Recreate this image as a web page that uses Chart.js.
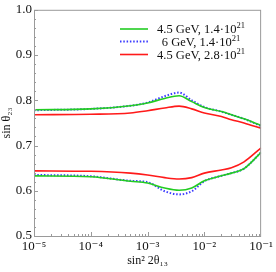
<!DOCTYPE html>
<html>
<head>
<meta charset="utf-8">
<script src="https://cdn.jsdelivr.net/npm/chart.js@4/dist/chart.umd.min.js"></script>
<style>
  html, body { margin: 0; padding: 0; background: #fff; }
  #wrap { width: 276px; height: 272px; }
</style>
</head>
<body>
<div id="wrap"><canvas id="chart" width="276" height="272"></canvas></div>
<script>
const xValues = [1e-5, 1e-4, 5e-4, 1e-3, 2e-3, 3.6e-3, 6e-3, 1e-2, 2e-2, 3e-2, 5e-2, 1e-1];

// upper branch
const greenUpper = [0.779, 0.781, 0.788, 0.794, 0.804, 0.810, 0.797, 0.784, 0.775, 0.768, 0.759, 0.744];
const blueUpper = [0.778, 0.781, 0.788, 0.795, 0.809, 0.817, 0.800, 0.785, 0.775, 0.768, 0.759, 0.743];
const redUpper = [0.768, 0.769, 0.772, 0.777, 0.783, 0.787, 0.781, 0.772, 0.764, 0.757, 0.750, 0.738];

// lower branch
const greenLower = [0.633, 0.631, 0.621, 0.617, 0.606, 0.601, 0.606, 0.622, 0.633, 0.639, 0.649, 0.685];
const blueLower = [0.635, 0.632, 0.622, 0.619, 0.599, 0.592, 0.599, 0.621, 0.633, 0.639, 0.649, 0.685];
const redLower = [0.644, 0.643, 0.639, 0.635, 0.629, 0.626, 0.629, 0.639, 0.646, 0.651, 0.664, 0.695];

const seriesNames = ["4.5 GeV, 1.4·10^21", "6 GeV, 1.4·10^21", "4.5 GeV, 2.8·10^21"];
const seriesColors = ["#22cc22", "#3b3bff", "#ff1a1a"];
const xTickValues = [1e-5, 1e-4, 1e-3, 1e-2, 1e-1];
const xTickLabels = ["10⁻⁵", "10⁻⁴", "10⁻³", "10⁻²", "10⁻¹"];

const FONT = "'Liberation Serif', 'DejaVu Serif', serif";
const AXIS_GRAY = "#9a9a9a";

function toPoints(ys) {
  return xValues.map((x, i) => ({ x, y: ys[i] }));
}

function makeDataset(ys, idx, hideLegend) {
  const dotted = idx === 1;
  return {
    label: seriesNames[idx],
    data: toPoints(ys),
    borderColor: seriesColors[idx],
    borderWidth: dotted ? 2 : 1.6,
    borderDash: dotted ? [1.5, 1.8] : [],
    showLine: true,
    pointRadius: 0,
    tension: 0.4,
    cubicInterpolationMode: "monotone",
    fill: false,
    hideLegend
  };
}

// inward ticks + frame, like the original plot
const frameTicksPlugin = {
  id: "frameTicks",
  afterDraw(chart) {
    const { ctx, chartArea, scales } = chart;
    const xs = scales.x;
    const ys = scales.y;
    ctx.save();
    ctx.strokeStyle = AXIS_GRAY;
    ctx.lineWidth = 1;
    ctx.strokeRect(chartArea.left + 0.5, chartArea.top + 0.5,
      chartArea.right - chartArea.left - 1, chartArea.bottom - chartArea.top);

    ctx.beginPath();
    for (let d = -5; d < -1; d += 1) {
      for (let m = 1; m <= 9; m += 1) {
        const v = m * Math.pow(10, d);
        const px = Math.round(xs.getPixelForValue(v)) + 0.5;
        const len = m === 1 ? 4 : 2;
        ctx.moveTo(px, chartArea.bottom);
        ctx.lineTo(px, chartArea.bottom - len);
      }
    }
    for (let k = 0; k <= 25; k += 1) {
      const v = 0.5 + k * 0.02;
      const py = Math.round(ys.getPixelForValue(v)) + 0.5;
      const len = k % 5 === 0 ? 4 : 2;
      ctx.moveTo(chartArea.left, py);
      ctx.lineTo(chartArea.left + len, py);
    }
    ctx.stroke();
    ctx.restore();
  }
};

// legend drawn inside the plot, with a raised exponent
const insideLegendPlugin = {
  id: "insideLegend",
  afterDraw(chart) {
    const { ctx } = chart;
    const rows = [29, 41.5, 54.5];
    ctx.save();
    ctx.textBaseline = "middle";
    seriesNames.forEach((name, i) => {
      const y = rows[i];
      ctx.strokeStyle = seriesColors[i];
      ctx.lineWidth = i === 1 ? 2 : 1.6;
      ctx.setLineDash(i === 1 ? [1.5, 1.8] : []);
      ctx.beginPath();
      ctx.moveTo(120, y);
      ctx.lineTo(148, y);
      ctx.stroke();

      const [base, sup] = name.split("^");
      ctx.font = `12.5px ${FONT}`;
      const wBase = ctx.measureText(base).width;
      ctx.font = `8.5px ${FONT}`;
      const wSup = ctx.measureText(sup).width;
      const start = 201 - (wBase + wSup) / 2;
      ctx.fillStyle = "#111";
      ctx.font = `12.5px ${FONT}`;
      ctx.fillText(base, start, y + 1);
      ctx.font = `8.5px ${FONT}`;
      ctx.fillText(sup, start + wBase, y - 3);
    });
    ctx.restore();
  }
};

new Chart(document.getElementById("chart"), {
  type: "scatter",
  plugins: [frameTicksPlugin, insideLegendPlugin],
  data: {
    datasets: [
      makeDataset(greenUpper, 0, false),
      makeDataset(blueUpper, 1, false),
      makeDataset(redUpper, 2, false),
      makeDataset(greenLower, 0, true),
      makeDataset(blueLower, 1, true),
      makeDataset(redLower, 2, true)
    ]
  },
  options: {
    responsive: false,
    animation: false,
    layout: { padding: { top: 4, right: 11, left: 0, bottom: 0 } },
    plugins: {
      legend: { display: false },
      tooltip: { enabled: false }
    },
    scales: {
      x: {
        type: "logarithmic",
        min: 1e-5,
        max: 1e-1,
        afterBuildTicks(scale) {
          scale.ticks = xTickValues.map((value) => ({ value }));
        },
        afterFit(scale) {
          scale.height = 36;
        },
        grid: { display: false, drawTicks: false },
        border: { display: false },
        ticks: {
          autoSkip: false,
          maxRotation: 0,
          padding: 3,
          color: "#111",
          font: { family: FONT, size: 13 },
          callback: (value) => {
            const idx = xTickValues.findIndex((t) => Math.abs(Math.log10(t) - Math.log10(value)) < 1e-6);
            return idx >= 0 ? xTickLabels[idx] : "";
          }
        },
        title: {
          display: true,
          text: "sin² 2θ₁₃",
          color: "#111",
          font: { family: FONT, size: 12 },
          padding: { top: 0, bottom: 4 }
        }
      },
      y: {
        min: 0.5,
        max: 1.0,
        afterFit(scale) {
          scale.width = 34;
        },
        grid: { display: false, drawTicks: false },
        border: { display: false },
        ticks: {
          stepSize: 0.1,
          padding: 2,
          color: "#111",
          font: { family: FONT, size: 13 },
          callback: (value) => Number(value).toFixed(1)
        },
        title: {
          display: true,
          text: "sin θ₂₃",
          color: "#111",
          font: { family: FONT, size: 12 },
          padding: { top: 0, bottom: 0 }
        }
      }
    }
  }
});
</script>
</body>
</html>
